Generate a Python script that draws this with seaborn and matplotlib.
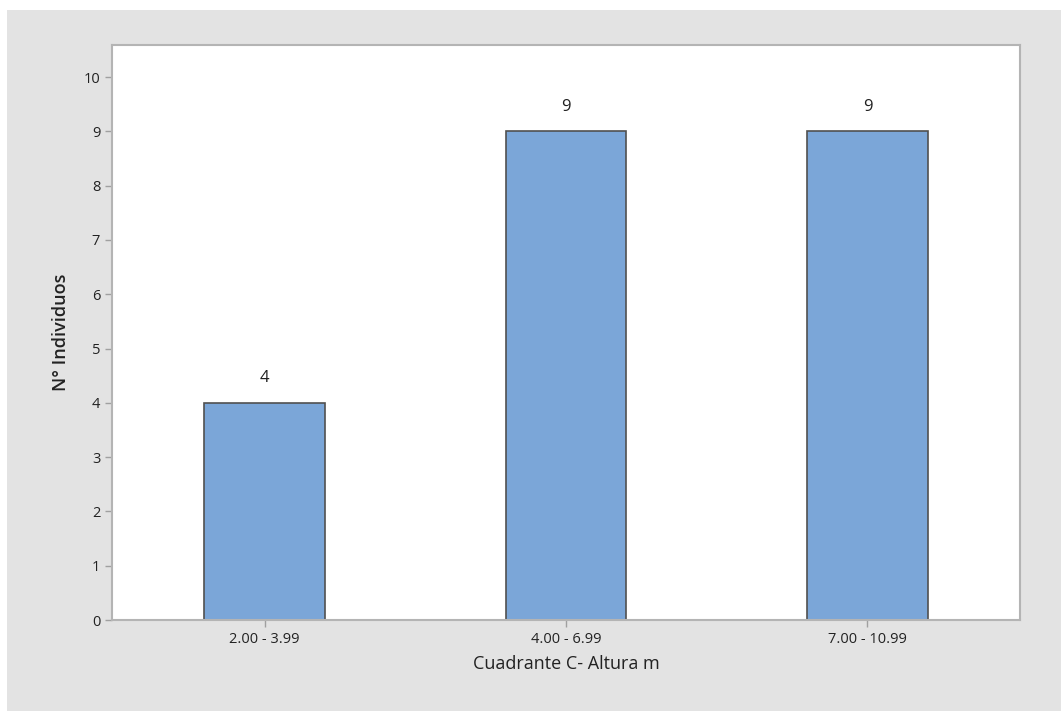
import matplotlib.pyplot as plt
import matplotlib.patches as mpatches
import pandas as pd
import seaborn as sns

# Data
categorias = ['2.00 - 3.99', '4.00 - 6.99', '7.00 - 10.99']
individuos = [4, 9, 9]

df = pd.DataFrame({'altura': categorias, 'n': individuos})

sns.set_style('white')
plt.rcParams['font.family'] = ['Open Sans', 'DejaVu Sans']

fig = plt.figure(figsize=(10.61, 7.11), dpi=100, facecolor='white')
# Gray panel behind the chart
fig.patches.append(mpatches.Rectangle((7 / 1061, 0), 1, 1 - 10 / 711,
                                      transform=fig.transFigure,
                                      facecolor='#e3e3e3', edgecolor='none',
                                      zorder=-10))
ax = fig.add_axes([112 / 1061, 91 / 711, 908 / 1061, 575 / 711])
ax.set_facecolor('white')

sns.barplot(data=df, x='altura', y='n', color='#7ba6d8', width=0.4,
            edgecolor='#505050', linewidth=1.2, saturation=1, ax=ax)

for i, v in enumerate(individuos):
    ax.annotate(str(v), (i, v), xytext=(0, 12), textcoords='offset points',
                ha='center', va='bottom', fontsize=12, color='#202020')

ax.set_xlim(-0.506, 2.506)
ax.set_ylim(0, 10.59)
ax.set_yticks(range(0, 11))

for s in ax.spines.values():
    s.set_visible(True)
    s.set_color('#b4b4b4')
    s.set_linewidth(1.5)

ax.tick_params(axis='both', direction='out', length=5, width=1, color='#a0a0a0',
               labelsize=10.5, labelcolor='#222222', bottom=True, left=True)

ax.set_xlabel('Cuadrante C- Altura m', fontsize=13, color='#222222', labelpad=6)
ax.set_ylabel('N° Individuos', fontsize=13, color='#222222', fontweight='semibold',
              labelpad=10)

fig.savefig('out.png', dpi=100)
